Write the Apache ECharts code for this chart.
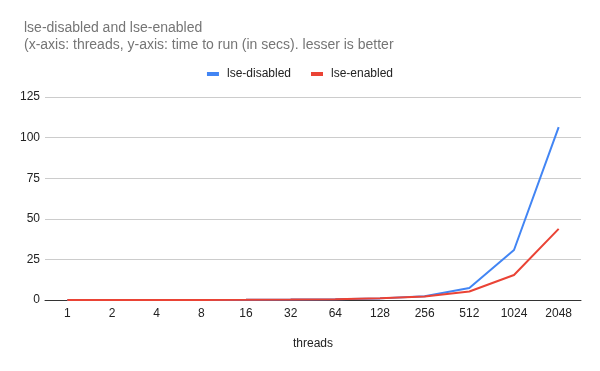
<!DOCTYPE html>
<html><head><meta charset="utf-8">
<script src="https://cdn.jsdelivr.net/npm/echarts@6/dist/echarts.min.js"></script>
<style>html,body{margin:0;padding:0;background:#fff}#c{width:600px;height:371px}</style>
</head><body><div id="c"></div>
<script>
const categories = ['1','2','4','8','16','32','64','128','256','512','1024','2048'];
const lseDisabled = [0.01,0.02,0.03,0.06,0.12,0.25,0.5,1.0,2.3,7.4,30.8,106.5];
const lseEnabled  = [0.01,0.02,0.03,0.06,0.12,0.25,0.5,1.1,2.2,5.2,15.4,43.8];
const yTicks = [0,25,50,75,100,125];
const F = '"Liberation Sans", Arial, sans-serif';

const chart = echarts.init(document.getElementById('c'));
chart.setOption({
  backgroundColor:'#fff',
  animation:false,
  title:{
    text:'lse-disabled and lse-enabled\n(x-axis: threads, y-axis: time to run (in secs). lesser is better',
    left:19, top:15,
    textStyle:{fontFamily:F,fontSize:14,fontWeight:'normal',color:'#757575',lineHeight:17}
  },
  legend:{
    top:63, left:'center', itemWidth:12, itemHeight:4, itemGap:20,
    icon:'rect',
    textStyle:{fontFamily:F,fontSize:12,color:'#222',padding:[0,0,0,3]},
    data:['lse-disabled','lse-enabled']
  },
  grid:{left:45,right:19,top:97,bottom:71},
  xAxis:{
    type:'category', data:categories, boundaryGap:true,
    name:'threads', nameLocation:'middle', nameGap:38,
    nameTextStyle:{fontFamily:F,fontSize:12,color:'#222'},
    axisLine:{lineStyle:{color:'#333',width:1}},
    axisTick:{show:false},
    axisLabel:{fontFamily:F,fontSize:12,color:'#222',margin:8}
  },
  yAxis:{
    type:'value', min:yTicks[0], max:yTicks[yTicks.length-1], interval:25,
    axisLine:{show:false}, axisTick:{show:false},
    splitLine:{lineStyle:{color:'#ccc'}},
    axisLabel:{fontFamily:F,fontSize:12,color:'#222',margin:5}
  },
  series:[
    {name:'lse-disabled',type:'line',data:lseDisabled,symbol:'none',color:'#4285f4',lineStyle:{width:2},z:2},
    {name:'lse-enabled',type:'line',data:lseEnabled,symbol:'none',color:'#ea4335',lineStyle:{width:2},z:3}
  ]
});
</script></body></html>
